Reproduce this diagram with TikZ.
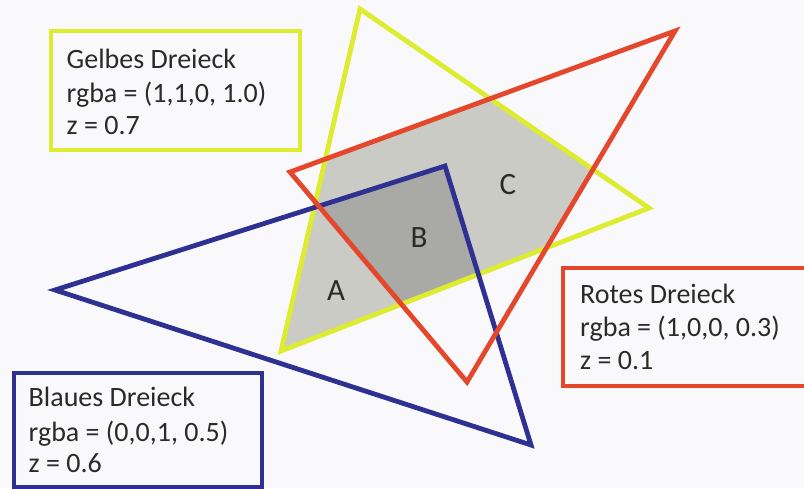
\documentclass[tikz,border=0pt]{standalone}
\usepackage{fontspec}
\setmainfont{Carlito}
\definecolor{paper}{HTML}{F9F9FB}
\definecolor{ylw}{HTML}{DDEC2E}
\definecolor{rd}{HTML}{E5472C}
\definecolor{bl}{HTML}{2E3192}
\definecolor{lgray}{HTML}{CBCBC6}
\definecolor{dgray}{HTML}{A9A9A6}
\definecolor{txt}{HTML}{2B2A26}
\tikzset{
  tri/.style={line width=4.8pt, line join=miter},
  infobox/.style={line width=4.8pt},
  infoline/.style={anchor=base west, inner sep=0pt, text=txt,
    font=\fontsize{28}{33}\selectfont},
  region/.style={text=txt, font=\fontsize{31}{36}\selectfont}
}
\begin{document}
\begin{tikzpicture}[x=1pt,y=-1pt]
\fill[paper] (0,0) rectangle (804,488);
\useasboundingbox (0,0) rectangle (804,488);
\coordinate (Y1) at (360,9);
\coordinate (Y2) at (649,208);
\coordinate (Y3) at (281,351);
\coordinate (R1) at (675,31);
\coordinate (R2) at (290,172);
\coordinate (R3) at (467,382);
\coordinate (B1) at (55,290);
\coordinate (B2) at (445,166);
\coordinate (B3) at (531,445);
% shading
\begin{scope}
  \clip (Y1) -- (Y2) -- (Y3) -- cycle;
  \fill[lgray] (R1) -- (R2) -- (R3) -- cycle;
  \fill[lgray] (B1) -- (B2) -- (B3) -- cycle;
  \begin{scope}
    \clip (R1) -- (R2) -- (R3) -- cycle;
    \fill[dgray] (B1) -- (B2) -- (B3) -- cycle;
  \end{scope}
\end{scope}
% outlines
\draw[tri, ylw] (Y1) -- (Y2) -- (Y3) -- cycle;
\draw[tri, bl] (B1) -- (B2) -- (B3) -- cycle;
\draw[tri, rd] (R1) -- (R2) -- (R3) -- cycle;
% region labels
\node[region] (A) at (336,291) {A};
\node[region] (B) at (419,238) {B};
\node[region] (C) at (508,185) {C};
% info boxes
\draw[infobox, ylw] (51,31) rectangle (300,150);
\node[infoline] (y1) at (66.5,68) {Gelbes Dreieck};
\node[infoline] (y2) at (66.5,102) {rgba = (1,1,0, 1.0)};
\node[infoline] (y3) at (66.5,134) {z = 0.7};
\draw[infobox, rd] (563,268) rectangle (830,386);
\node[infoline] (r1) at (580,303) {Rotes Dreieck};
\node[infoline] (r2) at (580,336) {rgba = (1,0,0, 0.3)};
\node[infoline] (r3) at (580,369) {z = 0.1};
\draw[infobox, bl] (14,373) rectangle (262,487);
\node[infoline] (b1) at (28.5,406) {Blaues Dreieck};
\node[infoline] (b2) at (28.5,441) {rgba = (0,0,1, 0.5)};
\node[infoline] (b3) at (28.5,472) {z = 0.6};
\end{tikzpicture}
\end{document}
